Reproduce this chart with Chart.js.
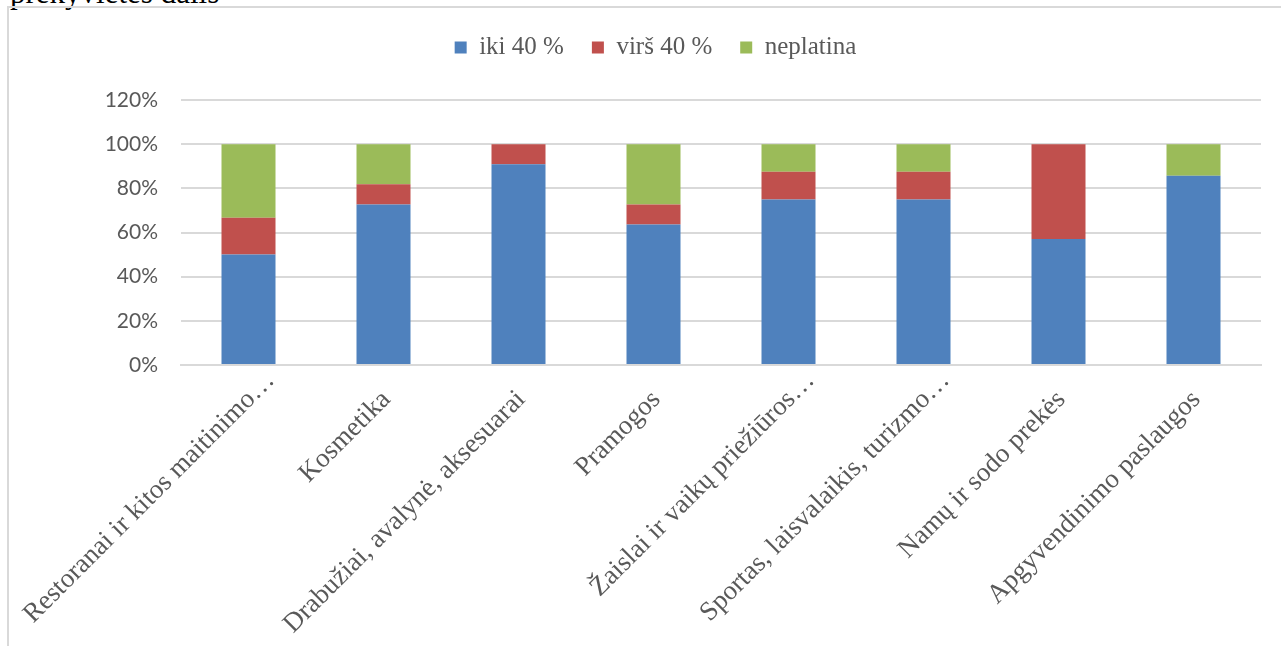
<!DOCTYPE html>
<html lang="lt">
<head>
<meta charset="utf-8">
<script src="https://cdn.jsdelivr.net/npm/chart.js@4"></script>
<style>
  html, body { margin: 0; padding: 0; background: #fff; width: 1281px; height: 646px; overflow: hidden; }
  #caption { position: absolute; left: 10px; top: -25px; font: 31px "Liberation Serif", serif; color: #000; white-space: nowrap; }
  #frame { position: absolute; left: 7px; top: 6px; right: -4px; bottom: -4px; border-left: 2px solid #d9d9d9; border-top: 2px solid #d9d9d9; }
  #chart { position: absolute; left: 0; top: 0; }
</style>
</head>
<body>
<div id="caption">prekyvietės dalis</div>
<div id="frame"></div>
<canvas id="chart" width="1281" height="646"></canvas>
<script>
// Categories along the x axis
const categories = [
  'Restoranai ir kitos maitinimo…',
  'Kosmetika',
  'Drabužiai, avalynė, aksesuarai',
  'Pramogos',
  'Žaislai ir vaikų priežiūros…',
  'Sportas, laisvalaikis, turizmo…',
  'Namų ir sodo prekės',
  'Apgyvendinimo paslaugos'
];

// Shares (%) per category for each answer
const iki40 = [50, 72.7, 90.9, 63.6, 75, 75, 57.1, 85.7];
const virs40 = [16.7, 9.1, 9.1, 9.1, 12.5, 12.5, 42.9, 0];
const neplatina = [33.3, 18.2, 0, 27.3, 12.5, 12.5, 0, 14.3];

const seriesNames = ['iki 40 %', 'virš 40 %', 'neplatina'];
const seriesColors = ['#4F81BD', '#C0504D', '#9BBB59'];

// Y axis: 0% … 120% in steps of 20
const yMin = 0, yMax = 120, yStep = 20;

const serif = 'Liberation Serif';
const sans = 'Lato';

// Extra room between the legend and the plot area
const legendGap = {
  id: 'legendGap',
  beforeInit(chart) {
    const origFit = chart.legend.fit;
    chart.legend.fit = function () {
      origFit.call(this);
      this.height += 30;
    };
  }
};

// Shortened labels (ending with an ellipsis) sit a little further along their baseline
const tickText = (i) => {
  const s = categories[i];
  return s.endsWith('…') ? s : s + '\u00A0\u00A0\u00A0\u00A0';
};

new Chart(document.getElementById('chart'), {
  type: 'bar',
  data: {
    labels: categories,
    datasets: [iki40, virs40, neplatina].map((vals, i) => ({
      label: seriesNames[i],
      data: vals,
      backgroundColor: seriesColors[i],
      borderWidth: 0,
      barPercentage: 0.4,
      categoryPercentage: 1
    }))
  },
  plugins: [legendGap],
  options: {
    responsive: false,
    animation: false,
    layout: { padding: { left: 50, right: 20, top: 7, bottom: 0 } },
    plugins: {
      legend: {
        position: 'top',
        labels: {
          font: { family: serif, size: 25 },
          color: '#595959',
          boxWidth: 12,
          boxHeight: 12,
          padding: 28
        }
      },
      tooltip: { enabled: false }
    },
    scales: {
      x: {
        stacked: true,
        grid: { display: false },
        border: { color: '#d9d9d9', width: 2 },
        ticks: {
          autoSkip: false,
          minRotation: 45,
          maxRotation: 45,
          font: { family: serif, size: 27 },
          color: '#595959',
          padding: -8,
          labelOffset: 22,
          callback: (v, i) => tickText(i)
        },
        afterFit(scale) {
          scale.height = 281;
          scale.paddingLeft = 0;
          scale.paddingRight = 0;
        }
      },
      y: {
        stacked: true,
        min: yMin,
        max: yMax,
        ticks: {
          stepSize: yStep,
          callback: v => v + '%',
          font: { family: sans, size: 21 },
          color: '#595959',
          padding: 23
        },
        grid: { color: '#d9d9d9', lineWidth: 2, drawTicks: false },
        border: { display: false },
        afterFit(scale) { scale.width = 131; }
      }
    }
  }
});
</script>
</body>
</html>
